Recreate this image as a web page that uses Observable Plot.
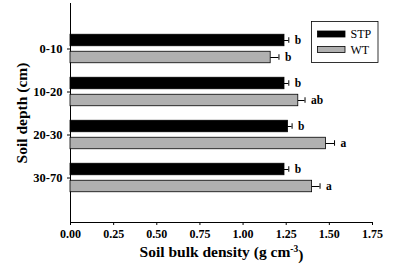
<!DOCTYPE html>
<html><head><meta charset="utf-8">
<script src="https://cdn.jsdelivr.net/npm/d3@7"></script>
<script src="https://cdn.jsdelivr.net/npm/@observablehq/plot@0.6"></script>
<style>body{margin:0;background:#fff}</style>
</head><body><div id="chart"></div>
<script>
const depths = ["0-10", "10-20", "20-30", "30-70"];
const series = ["STP", "WT"];
const stpValues = [1.24, 1.24, 1.26, 1.24];
const stpErrors = [0.025, 0.025, 0.024, 0.025];
const wtValues = [1.16, 1.32, 1.48, 1.40];
const wtErrors = [0.048, 0.039, 0.05, 0.046];
const stpLetters = ["b", "b", "b", "b"];
const wtLetters = ["b", "ab", "a", "a"];
const xTicks = [0, 0.25, 0.5, 0.75, 1, 1.25, 1.5, 1.75];

const stp = depths.map((d, i) => ({depth: d, v: stpValues[i], e: stpErrors[i], L: stpLetters[i]}));
const wt = depths.map((d, i) => ({depth: d, v: wtValues[i], e: wtErrors[i], L: wtLetters[i]}));

const font = "'Liberation Serif', 'Times New Roman', serif";
const off = 8.5;
const bh = 12;

function barsFor(data, fill, sign) {
  const c = sign * off;
  return [
    Plot.ruleY(data, {y: "depth", x1: d => d.v, x2: d => d.v + d.e, dy: c, stroke: "#000", strokeWidth: 1}),
    Plot.barX(data, {y: "depth", x: "v", fill, stroke: "#000", strokeWidth: 0.8,
      insetTop: 21.75 + c - bh / 2, insetBottom: 21.75 - c - bh / 2}),
    Plot.tickX(data, {y: "depth", x: d => d.v + d.e, stroke: "#000", strokeWidth: 1,
      insetTop: 21.75 + c - 3, insetBottom: 21.75 - c - 3}),
    Plot.text(data, {y: "depth", x: d => d.v + d.e, text: "L", dx: 6, dy: c, textAnchor: "start",
      fontWeight: "bold", fontSize: 11.5, fill: "#000"})
  ];
}

const chart = Plot.plot({
  width: 410, height: 278,
  marginLeft: 70, marginRight: 38, marginTop: 3, marginBottom: 56,
  style: {fontFamily: font, background: "#fff", color: "#000"},
  x: {domain: [0, 1.75]},
  y: {type: "band", domain: depths, paddingInner: 0, paddingOuter: 0.517},
  marks: [
    Plot.axisX({ticks: xTicks, tickFormat: d3.format(".2f"), tickSize: 3, tickPadding: 4,
      fontSize: 12, fontWeight: "bold", label: "Soil bulk density (g cm-3)", labelAnchor: "center",
      labelArrow: "none", labelOffset: 34}),
    Plot.axisY({tickSize: 3, tickPadding: 5, fontSize: 12.5, fontWeight: "bold",
      label: "Soil depth (cm)", labelAnchor: "center", labelArrow: "none", labelOffset: 55}),
    Plot.frame({anchor: "left", stroke: "#000"}),
    Plot.frame({anchor: "bottom", stroke: "#000"}),
    ...barsFor(stp, "#000", -1),
    ...barsFor(wt, "#b0b0b0", 1)
  ]
});

const svg = d3.select(chart);
svg.selectAll("g[aria-label='x-axis label'] text, g[aria-label='y-axis label'] text")
  .style("font-size", "15.5px").style("font-weight", "bold");
const xl = svg.select("g[aria-label='x-axis label'] text");
if (!xl.empty()) {
  xl.text(null);
  xl.append("tspan").text("Soil bulk density (g cm");
  xl.append("tspan").attr("dy", "-0.5em").style("font-size", "9.5px").text("-3");
  xl.append("tspan").attr("dy", "0.5em").text(")");
}
const lg = svg.append("g").attr("font-family", font).attr("text-anchor", "start");
lg.append("rect").attr("x", 311.5).attr("y", 21.5).attr("width", 66.5).attr("height", 41)
  .attr("fill", "#fff").attr("stroke", "#000").attr("stroke-width", 0.8);
series.forEach((s, i) => {
  lg.append("rect").attr("x", 317.5).attr("y", 31 + i * 15.5).attr("width", 27.5).attr("height", 6)
    .attr("fill", i === 0 ? "#000" : "#b0b0b0").attr("stroke", "#000").attr("stroke-width", 0.8);
  lg.append("text").attr("x", 350.5).attr("y", 34 + i * 15.5).attr("dy", "0.35em")
    .attr("text-anchor", "start").attr("font-size", 12).attr("fill", "#000").text(s);
});
document.getElementById("chart").appendChild(chart);
</script></body></html>
